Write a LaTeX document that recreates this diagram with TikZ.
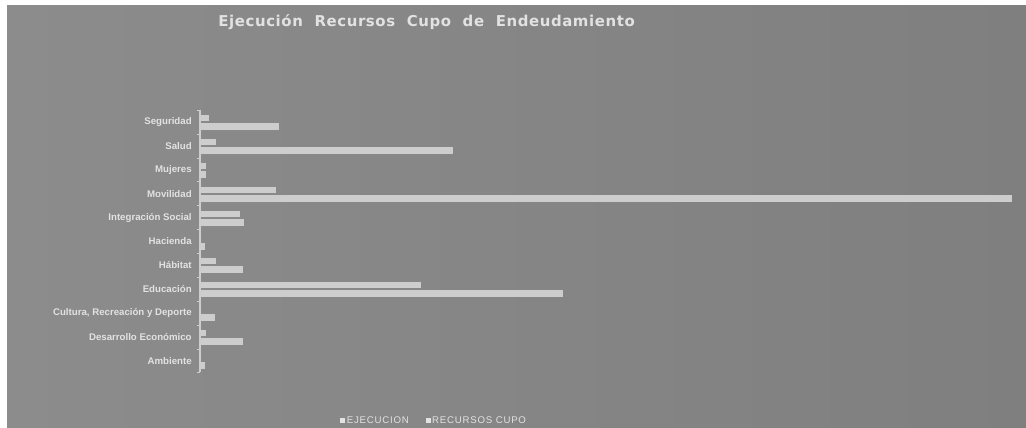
\documentclass[tikz,border=0pt]{standalone}
\usepackage{fontspec}
\setmainfont{Liberation Sans}
\newfontfamily\titlefont[LetterSpace=4]{DejaVu Sans}
\newfontfamily\legendfont[LetterSpace=8]{Liberation Sans}
\usetikzlibrary{positioning}

\definecolor{panel}{HTML}{8C8C8C}
\definecolor{paneldark}{HTML}{7F7F7F}
\definecolor{barfill}{HTML}{CDCDCD}
\definecolor{labeltext}{HTML}{E2E2E2}

\newcommand{\legmark}{\rule{2.8pt}{2.8pt}}

\begin{document}
\begin{tikzpicture}[x=0.02cm, y=-0.02cm,
    cat/.style = {anchor=east, inner sep=0pt, text=labeltext,
                  font=\fontsize{5.5}{6}\selectfont\bfseries},
    legend/.style = {inner sep=0pt, text=labeltext,
                  font=\legendfont\fontsize{5.5}{6}\selectfont},
    bar/.style = {fill=barfill}]
\useasboundingbox (0,0) rectangle (1026,427);
\fill[white] (0,0) rectangle (1026,427);
\shade[left color=panel, right color=paneldark] (7,5) rectangle (1026,427);
\node[anchor=west, inner sep=0pt, text=labeltext,
      font=\titlefont\fontsize{8.5}{10}\selectfont\bfseries] (title) at (218,22)
    {Ejecución\ \ Recursos\ \ Cupo\ \ de\ \ Endeudamiento};
\foreach \name/\ejec/\cupo [count=\i from 0] in
    {Seguridad/209/279, Salud/216/453, Mujeres/206/206, Movilidad/276/1012,
     Integración Social/240/244, Hacienda/200/205, Hábitat/216/243,
     Educación/421/563, {Cultura, Recreación y Deporte}/200/215,
     Desarrollo Económico/206/243, Ambiente/200/205}
{
    \pgfmathsetmacro{\yc}{122+23.9*\i}
    \node[cat] (cat\i) at (192,\yc) {\name};
    \fill[bar] (200,\yc-7) rectangle (\ejec,\yc-1);
    \fill[bar] (200,\yc+1) rectangle (\cupo,\yc+8);
    \draw[barfill, line width=0.3pt] (197,\yc-12) -- (200,\yc-12);
}
\draw[barfill, line width=0.6pt] (200,110) -- (200,372);
\draw[barfill, line width=0.3pt] (197,372) -- (200,372);
\node[legend, anchor=west] (legEjec) at (340,420) {\legmark\,EJECUCION};
\node[legend, right=16 of legEjec] (legCupo) {\legmark\,RECURSOS CUPO};
\end{tikzpicture}
\end{document}
